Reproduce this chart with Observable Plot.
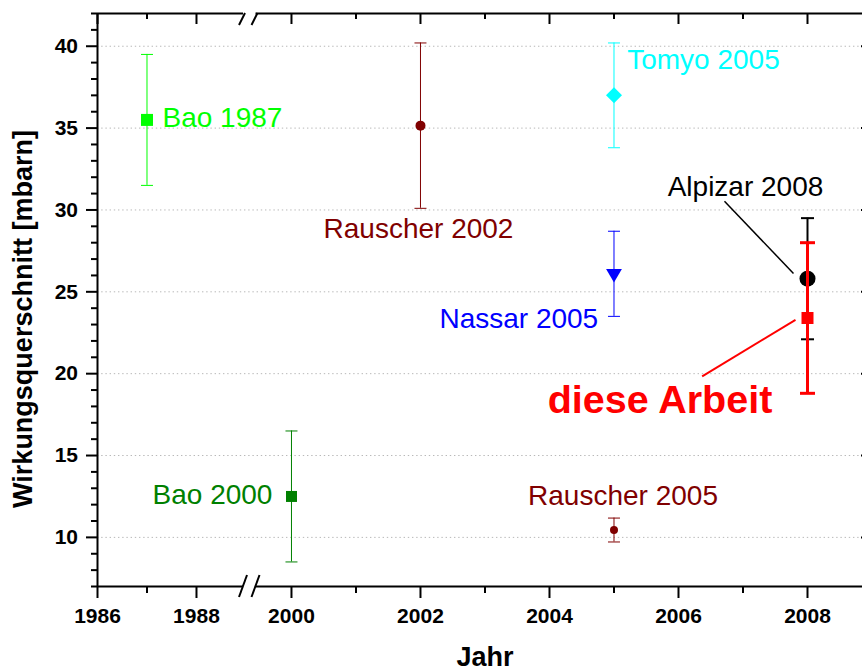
<!DOCTYPE html>
<html>
<head>
<meta charset="utf-8">
<script src="https://cdn.jsdelivr.net/npm/d3@7"></script>
<script src="https://cdn.jsdelivr.net/npm/@observablehq/plot@0.6"></script>
<style>
  html, body { margin: 0; padding: 0; background: #fff; overflow: hidden; }
  #chart { width: 862px; height: 671px; overflow: hidden; }
  #chart svg { max-width: none !important; display: block; }
</style>
</head>
<body>
<div id="chart"></div>
<script>
// Cross-section measurements (mbarn) by publication
const names  = ["Bao 1987", "Bao 2000", "Rauscher 2002", "Tomyo 2005", "Nassar 2005", "Rauscher 2005", "Alpizar 2008", "diese Arbeit"];
const years  = [1987, 2000, 2002, 2005, 2005, 2005, 2008, 2008];
const values = [35.5, 12.5, 35.15, 37.0, 26.1, 10.45, 25.8, 23.4];
const errors = [4.0, 4.0, 5.05, 3.2, 2.6, 0.73, 3.7, 4.6];

// Axis ticks and tick labels
const majorYears  = [1986, 1988, 2000, 2002, 2004, 2006, 2008];
const minorYears  = [1987, 2001, 2003, 2005, 2007];
const majorValues = [10, 15, 20, 25, 30, 35, 40];
const minorValues = [7, 8, 9, 11, 12, 13, 14, 16, 17, 18, 19, 21, 22, 23, 24, 26, 27, 28, 29,
                     31, 32, 33, 34, 36, 37, 38, 39, 41, 42];

// Broken year axis: 1986–1989, then 1999.5–2009
const yearMin = 1986, breakLo = 1988.95, breakHi = 1999.45, yearMax = 2009;
const valueMin = 7, valueMax = 42;

// Label anchors (data space)
const labelYears   = [1987.313, 1999.705, 2001.969, 2005.205, 2004.755, 2005.140, 2007.039, 2005.713];
const labelValues  = [35.62, 12.56, 28.81, 39.14, 23.31, 12.50, 31.43, 18.34];
const labelAnchors = ["start", "end", "middle", "start", "end", "middle", "middle", "middle"];

// Leader lines from a label towards its point
const leaderSeries      = [6, 7];
const leaderStartYears  = [2006.713, 2006.367];
const leaderStartValues = [30.535, 19.83];
const leaderEndYears    = [2007.783, 2007.814];
const leaderEndValues   = [26.12, 23.29];

// Marker shapes
const shape = (fn) => ({draw(ctx, size) { fn(ctx, Math.sqrt(size / Math.PI)); }});
const square   = shape((c, r) => { c.rect(-r, -r, 2 * r, 2 * r); });
const diamond  = shape((c, r) => { c.moveTo(0, -r); c.lineTo(r, 0); c.lineTo(0, r); c.lineTo(-r, 0); c.closePath(); });
const triDown  = shape((c, r) => { c.moveTo(-r, -0.6 * r); c.lineTo(r, -0.6 * r); c.lineTo(0, 1.1 * r); c.closePath(); });
const capShape = shape((c, r) => { c.moveTo(-r, 0); c.lineTo(r, 0); });

// Series styles
const colors      = ["#00ff00", "#008000", "#800000", "#00ffff", "#0000ff", "#800000", "#000000", "#ff0000"];
const symbols     = [square, square, "circle", diamond, triDown, "circle", "circle", square];
const markerR     = [6, 5.5, 5, 8, 7.9, 4, 8, 6];
const barWidths   = [1, 1, 1, 1, 1, 1, 2, 3];
const capR        = [6, 6, 6, 6, 6, 6, 6.5, 7.5];
const labelSizes  = [28, 28, 28, 28, 28, 28, 28, 39.5];
const labelWeight = ["normal", "normal", "normal", "normal", "normal", "normal", "normal", "bold"];
const leaderWidth = [1.5, 2];

const rows = names.map((name, i) => ({
  name, year: years[i], value: values[i], lo: values[i] - errors[i], hi: values[i] + errors[i]
}));

// Frame geometry
const W = 872, H = 671, mTop = 13, mBottom = 85, mLeft = 97, mRight = 0;
const frameH = H - mTop - mBottom, frameW = W - mLeft - mRight;
const axisStroke = {stroke: "black", strokeWidth: 2};

// Break marks on the top and bottom axis
const breakMarks = (index, scales, values, dims) => {
  const g = d3.create("svg:g").attr("stroke", "black").attr("stroke-width", 2).attr("fill", "none");
  const yb = dims.height - dims.marginBottom, yt = dims.marginTop;
  for (const b of [breakLo, breakHi]) {
    const bx = scales.x(b);
    g.append("line").attr("x1", bx - 4).attr("y1", yb + 11).attr("x2", bx + 4).attr("y2", yb - 11);
    g.append("line").attr("x1", bx - 4).attr("y1", yt + 12).attr("x2", bx + 2).attr("y2", yt);
  }
  return g.node();
};

const marks = [
  // dotted horizontal grid
  Plot.ruleY(majorValues, {stroke: "#b8b8b8", strokeWidth: 1, strokeDasharray: "1.4,2.8"}),

  // axis lines (with a gap at the break)
  Plot.ruleY([valueMin], {x1: yearMin, x2: breakLo, ...axisStroke}),
  Plot.ruleY([valueMin], {x1: breakHi, x2: yearMax, ...axisStroke}),
  Plot.ruleY([valueMax], {x1: yearMin, x2: breakLo, ...axisStroke}),
  Plot.ruleY([valueMax], {x1: breakHi, x2: yearMax, ...axisStroke}),
  Plot.ruleX([yearMin], axisStroke),
  Plot.ruleX([yearMax], axisStroke),

  // bottom ticks (outward), top ticks (inward)
  Plot.ruleX(majorYears, {insetTop: frameH - 12, dy: 12, ...axisStroke}),
  Plot.ruleX(minorYears, {insetTop: frameH - 7, dy: 7, ...axisStroke}),
  Plot.ruleX(majorYears, {insetBottom: frameH - 11, ...axisStroke}),
  Plot.ruleX(minorYears, {insetBottom: frameH - 6, ...axisStroke}),

  // left ticks (outward), right ticks (inward)
  Plot.ruleY(majorValues, {insetRight: frameW - 11, dx: -11, ...axisStroke}),
  Plot.ruleY(minorValues, {insetRight: frameW - 6, dx: -6, ...axisStroke}),
  Plot.ruleY(majorValues, {insetLeft: frameW - 11, ...axisStroke}),
  Plot.ruleY(minorValues, {insetLeft: frameW - 6, ...axisStroke}),

  breakMarks,

  // tick labels
  Plot.text(majorYears, {x: d => d, y: valueMin, dy: 29.3, text: d => String(d),
    fontSize: 21, fontWeight: "bold", fill: "black"}),
  Plot.text(majorValues, {x: yearMin, y: d => d, dx: -19.5, text: d => String(d), textAnchor: "end",
    fontSize: 21, fontWeight: "bold", fill: "black"}),

  // axis titles
  Plot.text(["Jahr"], {frameAnchor: "bottom", dy: 71, text: d => d, textAnchor: "middle", lineAnchor: "middle",
    fontSize: 27, fontWeight: "bold", fill: "black"}),
  Plot.text(["Wirkungsquerschnitt [mbarn]"], {frameAnchor: "left", dx: -74, dy: 19, rotate: -90, text: d => d,
    textAnchor: "middle", lineAnchor: "middle", fontSize: 27, fontWeight: "bold", fill: "black"})
];

// leader lines
leaderSeries.forEach((s, j) => {
  marks.push(Plot.link([rows[s]], {
    x1: leaderStartYears[j], y1: leaderStartValues[j], x2: leaderEndYears[j], y2: leaderEndValues[j],
    stroke: colors[s], strokeWidth: leaderWidth[j]
  }));
});

// error bars, caps and markers, one series at a time
rows.forEach((row, i) => {
  const d = [row];
  marks.push(
    Plot.ruleX(d, {x: "year", y1: "lo", y2: "hi", stroke: colors[i], strokeWidth: barWidths[i]}),
    Plot.dot(d, {x: "year", y: "lo", symbol: capShape, r: capR[i], fill: "none", stroke: colors[i], strokeWidth: barWidths[i]}),
    Plot.dot(d, {x: "year", y: "hi", symbol: capShape, r: capR[i], fill: "none", stroke: colors[i], strokeWidth: barWidths[i]}),
    Plot.dot(d, {x: "year", y: "value", symbol: symbols[i], r: markerR[i], fill: colors[i], stroke: "none"})
  );
});

// series labels
rows.forEach((row, i) => {
  marks.push(Plot.text([row], {
    x: labelYears[i], y: labelValues[i], text: "name", textAnchor: labelAnchors[i],
    fontSize: labelSizes[i], fontWeight: labelWeight[i], fill: colors[i]
  }));
});

const chart = Plot.plot({
  width: W,
  height: H,
  marginTop: mTop,
  marginBottom: mBottom,
  marginLeft: mLeft,
  marginRight: mRight,
  style: {fontFamily: "'Liberation Sans', Arial, sans-serif", background: "white", maxWidth: "none", overflow: "hidden"},
  x: {type: "linear", domain: [yearMin, breakLo, breakHi, yearMax], range: [97, 243, 255.5, 871.5], axis: null},
  y: {type: "linear", domain: [valueMin, valueMax], axis: null},
  marks
});

document.getElementById("chart").appendChild(chart);
</script>
</body>
</html>
